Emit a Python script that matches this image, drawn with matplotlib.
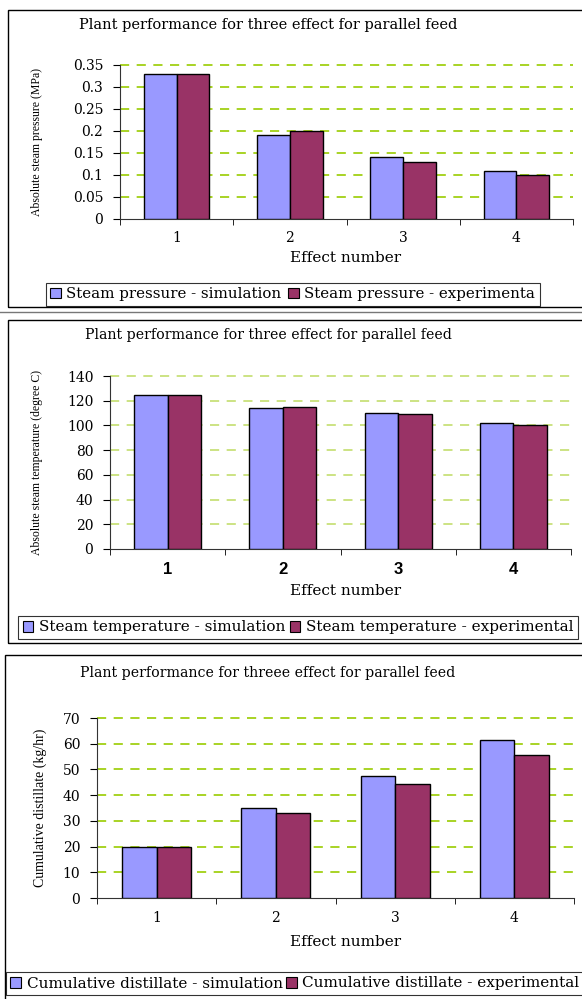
import matplotlib
matplotlib.use("Agg")
import matplotlib.pyplot as plt
from matplotlib.patches import Rectangle, Patch
import numpy as np

W, H = 582, 999

categories = ["1", "2", "3", "4"]

title1 = "Plant performance for three effect for parallel feed"
ylabel1 = "Absolute steam pressure (MPa)"
pressure_sim = [0.33, 0.19, 0.14, 0.11]
pressure_exp = [0.33, 0.20, 0.13, 0.10]
yticks1 = [0, 0.05, 0.1, 0.15, 0.2, 0.25, 0.3, 0.35]
yticklabels1 = ["0", "0.05", "0.1", "0.15", "0.2", "0.25", "0.3", "0.35"]
legend1 = ["Steam pressure - simulation", "Steam pressure - experimenta"]

title2 = "Plant performance for three effect for parallel feed"
ylabel2 = "Absolute steam temperature (degree C)"
temp_sim = [125, 114, 110, 102]
temp_exp = [125, 115, 109, 100]
yticks2 = [0, 20, 40, 60, 80, 100, 120, 140]
legend2 = ["Steam temperature - simulation", "Steam temperature - experimental"]

title3 = "Plant performance for threee effect for parallel feed"
ylabel3 = "Cumulative distillate (kg/hr)"
dist_sim = [20, 35, 47.5, 61.5]
dist_exp = [20, 33, 44.5, 55.5]
yticks3 = [0, 10, 20, 30, 40, 50, 60, 70]
legend3 = ["Cumulative distillate - simulation", "Cumulative distillate - experimental"]

xlabel = "Effect number"

SIM = "#9999FF"
EXP = "#993366"
WIDE = ["DejaVu Serif"]
SERIF = ["Liberation Serif", "DejaVu Serif"]
SANS = ["Liberation Sans", "DejaVu Sans"]

fig = plt.figure(figsize=(W / 100, H / 100), dpi=100)


def fx(x):
    return x / W


def fy(y):
    return 1 - y / H


def frame(x0, y0, x1, y1, color="black", lw=1.0):
    r = Rectangle((fx(x0), fy(y1)), fx(x1) - fx(x0), fy(y0) - fy(y1),
                  transform=fig.transFigure, fill=False, edgecolor=color,
                  linewidth=lw)
    fig.add_artist(r)


def panel(box, sim, exp, ymax, yticks, yticklabels, title, title_y, title_size,
          ylabel, ylabel_x, ylabel_size, xlabel_y, legend_labels, legend_box,
          legend_size, grid_color, xtick_font, xtick_size, xtick_weight,
          colspace, tick_size=10):
    x0, ytop, x1, ybot = box
    ax = fig.add_axes([fx(x0), fy(ybot), fx(x1) - fx(x0), fy(ytop) - fy(ybot)])
    n = len(categories)
    pos = np.arange(n)
    bw = 0.29
    ax.bar(pos - bw / 2, sim, width=bw, color=SIM, edgecolor="black",
           linewidth=1.0, zorder=3)
    ax.bar(pos + bw / 2, exp, width=bw, color=EXP, edgecolor="black",
           linewidth=1.0, zorder=3)
    ax.set_xlim(-0.5, n - 0.5)
    ax.set_ylim(0, ymax)
    ax.set_yticks(yticks)
    ax.set_yticklabels(yticklabels, fontfamily=WIDE, fontsize=tick_size)
    ax.set_xticks(pos)
    ax.set_xticklabels(categories, fontfamily=xtick_font, fontsize=xtick_size,
                       fontweight=xtick_weight)
    ax.set_xticks(np.arange(-0.5, n, 1.0), minor=True)
    ax.tick_params(axis="x", which="major", length=0, pad=9)
    ax.tick_params(axis="x", which="minor", length=4, direction="out",
                   color="black")
    ax.tick_params(axis="y", length=5, direction="out", pad=7, color="black")
    for s in ["top", "right"]:
        ax.spines[s].set_visible(False)
    ax.spines["left"].set_color("#333333")
    ax.spines["bottom"].set_color("#333333")
    for t in yticks[1:]:
        ax.axhline(t, color=grid_color, linewidth=1.2,
                   linestyle=(0, (5.5, 4.5)), zorder=1, clip_on=False)
    ax.set_facecolor("none")
    fig.text(fx(268), fy(title_y), title, ha="center",
             va="center", fontfamily=WIDE, fontsize=title_size)
    fig.text(fx(ylabel_x), fy((ytop + ybot) / 2), ylabel, rotation=90,
             ha="center", va="center", fontfamily=SERIF, fontsize=ylabel_size)
    fig.text(fx(346), fy(xlabel_y), xlabel, ha="center",
             va="center", fontfamily=WIDE, fontsize=11)
    handles = [Patch(facecolor=SIM, edgecolor="black", linewidth=0.8),
               Patch(facecolor=EXP, edgecolor="black", linewidth=0.8)]
    lx0, ly0, lx1, ly1 = legend_box
    leg = ax.legend(handles, legend_labels, loc="center",
                    bbox_to_anchor=(fx((lx0 + lx1) / 2), fy((ly0 + ly1) / 2)),
                    bbox_transform=fig.transFigure, ncol=2, frameon=True,
                    fancybox=False, edgecolor="black", handlelength=0.7,
                    handleheight=0.7, handletextpad=0.35,
                    columnspacing=colspace, borderpad=0.3, borderaxespad=0,
                    prop={"family": WIDE, "size": legend_size})
    leg.get_frame().set_linewidth(0.8)
    return ax


# panel frames
frame(8, 10, 590, 307)
frame(8, 320, 590, 643)
frame(5, 655, 590, 1005)
fig.add_artist(plt.Line2D([0, 1], [fy(312), fy(312)],
                          transform=fig.transFigure, color="#777777",
                          linewidth=1.0))

panel((120, 65, 573, 219), pressure_sim, pressure_exp, 0.35, yticks1,
      yticklabels1, title1, 25, 10.5, ylabel1, 37, 8.5, 258, legend1,
      (30, 285, 555, 303), 10.8, "#99CC00", WIDE, 10, "normal", 0.5)

panel((110, 376, 571, 549), temp_sim, temp_exp, 140, yticks2,
      [str(v) for v in yticks2], title2, 335, 10.2, ylabel2, 37, 8.5, 591,
      legend2, (8, 617, 588, 638), 11, "#C4DE6E", SANS, 12, "bold", 0.3)

panel((97, 718, 574, 898), dist_sim, dist_exp, 70, yticks3,
      [str(v) for v in yticks3], title3, 673, 10.2, ylabel3, 40, 10, 942,
      legend3, (0, 972, 590, 995), 11, "#99CC00", WIDE, 10, "normal", 0.25)

fig.savefig("out.png", dpi=100)
